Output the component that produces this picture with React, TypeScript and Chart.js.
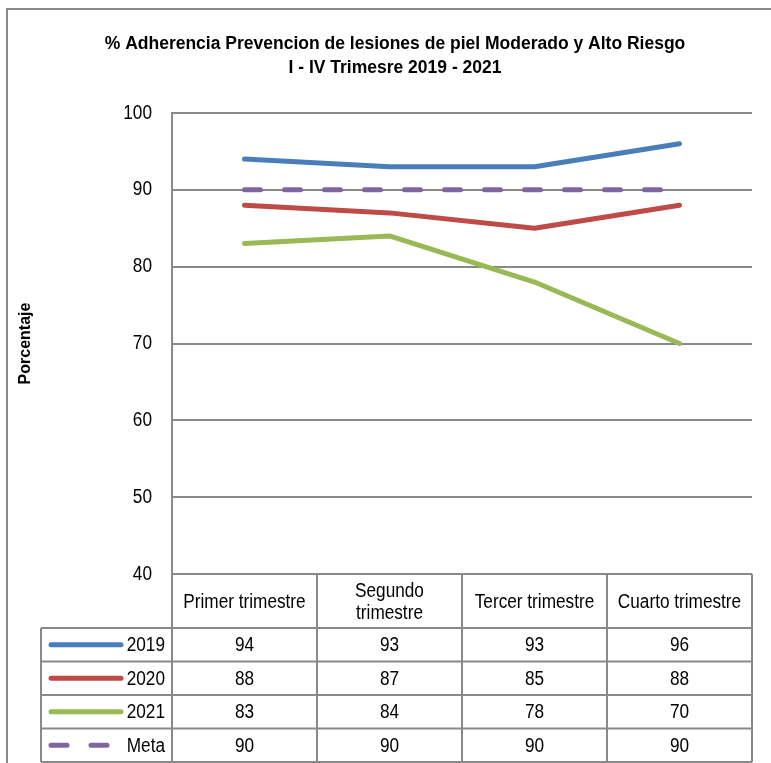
import React, { useEffect, useRef } from "react";
import { Chart, registerables } from "chart.js";

Chart.register(...registerables);

const titleLines = ["% Adherencia Prevencion de lesiones de piel Moderado y Alto Riesgo", "I - IV Trimesre 2019 - 2021"];
const yAxisTitle = "Porcentaje";
const categories = ["Primer trimestre", "Segundo trimestre", "Tercer trimestre", "Cuarto trimestre"];
const categoryLines = [["Primer trimestre"], ["Segundo", "trimestre"], ["Tercer trimestre"], ["Cuarto trimestre"]];
const seriesNames = ["2019", "2020", "2021", "Meta"];
const values2019 = [94, 93, 93, 96];
const values2020 = [88, 87, 85, 88];
const values2021 = [83, 84, 78, 70];
const valuesMeta = [90, 90, 90, 90];
const yMin = 40;
const yMax = 100;
const yStep = 10;

const colors = ["#4a7ebb", "#be4b48", "#98b954", "#8064a2"];
const FONT = "'Liberation Sans', Arial, sans-serif";
const GRID = "#898989";
const SQUEEZE = 0.86;

function narrowText(ctx: CanvasRenderingContext2D, text: string, x: number, y: number, align: CanvasTextAlign) {
  ctx.save();
  ctx.translate(x, y);
  ctx.scale(SQUEEZE, 1);
  ctx.textAlign = align;
  ctx.textBaseline = "middle";
  ctx.fillText(text, 0, 0);
  ctx.restore();
}

export default function App() {
  const ref = useRef<HTMLCanvasElement>(null);
  useEffect(() => {
    const canvas = ref.current;
    if (!canvas) return;
    const allSeries = [values2019, values2020, values2021, valuesMeta];
    const tablePlugin = {
      id: "tablePlugin",
      afterDraw(chart: any) {
        const ctx = chart.ctx as CanvasRenderingContext2D;
        const ca = chart.chartArea;
        const yScale = chart.scales.y;
        const colW = (ca.right - ca.left) / categories.length;
        const headerBottom = ca.bottom + 54;
        const rowH = 33.5;
        const tableLeft = 41;
        ctx.save();
        // outer frame
        ctx.strokeStyle = GRID;
        ctx.lineWidth = 2;
        ctx.beginPath();
        ctx.moveTo(7, 763);
        ctx.lineTo(7, 9);
        ctx.lineTo(771, 9);
        ctx.stroke();
        // title
        ctx.fillStyle = "#000";
        ctx.font = `bold 17.5px ${FONT}`;
        ctx.textAlign = "center";
        ctx.textBaseline = "middle";
        ctx.fillText(titleLines[0], 395, 44);
        ctx.fillText(titleLines[1], 395, 68);
        // y axis title
        ctx.save();
        ctx.translate(26, (ca.top + ca.bottom) / 2);
        ctx.rotate(-Math.PI / 2);
        ctx.font = `bold 16px ${FONT}`;
        ctx.fillText(yAxisTitle, 0, 0);
        ctx.restore();
        // y tick labels from the scale
        ctx.font = `20px ${FONT}`;
        yScale.ticks.forEach((t: any) => {
          narrowText(ctx, String(t.value), ca.left - 20, yScale.getPixelForValue(t.value), "right");
        });
        // table grid
        ctx.strokeStyle = GRID;
        ctx.lineWidth = 2;
        ctx.beginPath();
        for (let i = 0; i <= categories.length; i++) {
          const x = ca.left + i * colW;
          ctx.moveTo(x, ca.bottom);
          ctx.lineTo(x, headerBottom + rowH * seriesNames.length);
        }
        ctx.moveTo(tableLeft, headerBottom);
        ctx.lineTo(tableLeft, headerBottom + rowH * seriesNames.length);
        for (let r = 0; r <= seriesNames.length; r++) {
          const y = headerBottom + r * rowH;
          ctx.moveTo(tableLeft, y);
          ctx.lineTo(ca.right, y);
        }
        ctx.stroke();
        // header text
        ctx.font = `20px ${FONT}`;
        ctx.fillStyle = "#000";
        const headerMid = (ca.bottom + headerBottom) / 2;
        categoryLines.forEach((lines, i) => {
          const cx = ca.left + (i + 0.5) * colW;
          const lh = 22;
          lines.forEach((t, k) => {
            narrowText(ctx, t, cx, headerMid + (k - (lines.length - 1) / 2) * lh + 1, "center");
          });
        });
        // rows
        seriesNames.forEach((name, r) => {
          const cy = headerBottom + (r + 0.5) * rowH + 1;
          ctx.save();
          ctx.strokeStyle = colors[r];
          ctx.lineWidth = 5;
          ctx.lineCap = "round";
          if (r === 3) ctx.setLineDash([16, 24]);
          ctx.beginPath();
          ctx.moveTo(51, cy - 1);
          ctx.lineTo(121, cy - 1);
          ctx.stroke();
          ctx.restore();
          narrowText(ctx, name, 165, cy, "right");
          allSeries[r].forEach((v, i) => {
            narrowText(ctx, String(v), ca.left + (i + 0.5) * colW, cy, "center");
          });
        });
        ctx.restore();
      },
    };
    const chart = new Chart(canvas, {
      type: "line",
      data: {
        labels: categories,
        datasets: seriesNames.map((name, i) => ({
          label: name,
          data: allSeries[i],
          borderColor: colors[i],
          backgroundColor: colors[i],
          borderWidth: 5,
          borderCapStyle: "round",
          borderJoinStyle: "round",
          borderDash: i === 3 ? [16, 24] : [],
          pointRadius: 0,
          tension: 0,
          fill: false,
        })),
      },
      options: {
        responsive: false,
        animation: false,
        layout: { padding: { left: 0, right: 19, top: 113, bottom: 189 } },
        plugins: { legend: { display: false }, title: { display: false }, tooltip: { enabled: false } },
        scales: {
          x: { type: "category", offset: true, display: false },
          y: {
            min: yMin,
            max: yMax,
            afterFit: (s: any) => { s.width = 172; },
            ticks: { stepSize: yStep, display: false },
            grid: { color: GRID, lineWidth: 2, drawTicks: false },
            border: { color: GRID, width: 2 },
          },
        },
      },
      plugins: [tablePlugin],
    } as any);
    return () => chart.destroy();
  }, []);
  return (
    <div style={{ position: "fixed", left: 0, top: 0, width: 771, height: 763, background: "#fff" }}>
      <canvas ref={ref} width={771} height={763} style={{ display: "block" }} />
    </div>
  );
}
